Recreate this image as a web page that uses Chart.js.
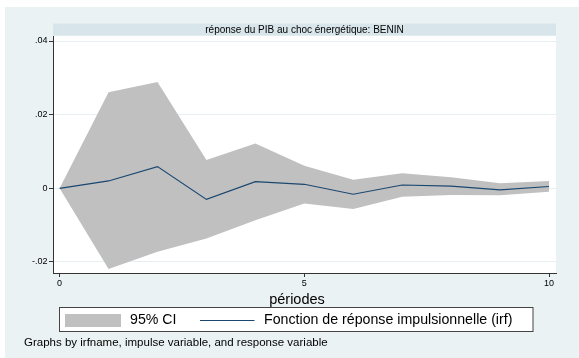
<!DOCTYPE html>
<html>
<head>
<meta charset="utf-8">
<script src="https://cdn.jsdelivr.net/npm/chart.js@4/dist/chart.umd.min.js"></script>
<style>
  html, body { margin: 0; padding: 0; background: #ffffff; }
  #c { display: block; }
</style>
</head>
<body>
<canvas id="c" width="579" height="358"></canvas>
<script>
// Impulse response of GDP to an energy shock, Benin, with 95% confidence band
const periods = [0, 1, 2, 3, 4, 5, 6, 7, 8, 9, 10];
const irf     = [0, 0.0020, 0.0059, -0.0030, 0.0018, 0.0011, -0.0016, 0.0009, 0.0006, -0.0004, 0.0005];
const ciUpper = [0, 0.0261, 0.0289, 0.0077, 0.0122, 0.0061, 0.0023, 0.0041, 0.0030, 0.0014, 0.0020];
const ciLower = [0, -0.0219, -0.0172, -0.0136, -0.0087, -0.0041, -0.0056, -0.0023, -0.0018, -0.0019, -0.0009];
const yTicks = [-0.02, 0, 0.02, 0.04];
const yTickLabels = ['-.02', '0', '.02', '.04'];
const xTicks = [0, 5, 10];

const panelTitle = 'réponse du PIB au choc énergétique: BENIN';
const xTitle = 'périodes';
const legendCI = '95% CI';
const legendIRF = 'Fonction de réponse impulsionnelle (irf)';
const footNote = 'Graphs by irfname, impulse variable, and response variable';

const FONT = '"Liberation Sans", Arial, Helvetica, sans-serif';
const NAVY = '#1a476f';
const BAND = '#c0c0c0';
const AXIS = '#333333';

const toXY = arr => periods.map((p, i) => ({ x: p, y: arr[i] }));

// Stata-like graph region, by-panel strip, legend and note
const decorations = {
  id: 'decorations',
  beforeDraw(chart) {
    const { ctx, chartArea: a } = chart;
    ctx.save();
    ctx.fillStyle = '#ffffff';
    ctx.fillRect(0, 0, chart.width, chart.height);
    ctx.fillStyle = '#eaf2f3';
    ctx.fillRect(5, 7, chart.width - 5, chart.height - 7);
    // plot region
    ctx.fillStyle = '#ffffff';
    ctx.fillRect(a.left, a.top, a.right - a.left, a.bottom - a.top);
    // panel strip
    ctx.fillStyle = '#d8e5ea';
    ctx.fillRect(a.left, 23.5, a.right - a.left, 12);
    ctx.fillStyle = '#000000';
    ctx.font = '10px ' + FONT;
    ctx.textAlign = 'center';
    ctx.textBaseline = 'middle';
    ctx.fillText(panelTitle, (a.left + a.right) / 2, 29.8);
    ctx.restore();
  },
  afterDraw(chart) {
    const { ctx } = chart;
    ctx.save();
    ctx.fillStyle = '#000000';
    ctx.textBaseline = 'middle';
    // x axis title
    ctx.font = '14.5px ' + FONT;
    ctx.textAlign = 'center';
    ctx.fillText(xTitle, 297, 300);
    // legend box
    ctx.fillStyle = '#ffffff';
    ctx.fillRect(59.5, 307.5, 473.5, 24);
    ctx.strokeStyle = '#444444';
    ctx.lineWidth = 1;
    ctx.strokeRect(59.5, 307.5, 473.5, 24);
    ctx.fillStyle = BAND;
    ctx.fillRect(65, 314, 56, 13);
    ctx.strokeStyle = NAVY;
    ctx.lineWidth = 1.2;
    ctx.beginPath();
    ctx.moveTo(200, 320.5);
    ctx.lineTo(254.5, 320.5);
    ctx.stroke();
    ctx.fillStyle = '#000000';
    ctx.font = '14.2px ' + FONT;
    ctx.textAlign = 'left';
    ctx.fillText(legendCI, 130, 320.5);
    ctx.fillText(legendIRF, 264, 320.5);
    // note
    ctx.font = '11.5px ' + FONT;
    ctx.fillText(footNote, 24, 343);
    ctx.restore();
  }
};

new Chart(document.getElementById('c'), {
  type: 'line',
  data: {
    datasets: [
      { label: legendCI, data: toXY(ciUpper), borderWidth: 0, pointRadius: 0,
        backgroundColor: BAND, fill: '+1', tension: 0, order: 2 },
      { label: 'lower', data: toXY(ciLower), borderWidth: 0, pointRadius: 0,
        backgroundColor: BAND, fill: false, tension: 0, order: 1 },
      { label: legendIRF, data: toXY(irf), borderColor: NAVY, borderWidth: 1.2,
        pointRadius: 0, fill: false, tension: 0, order: 0 }
    ]
  },
  options: {
    responsive: false,
    animation: false,
    devicePixelRatio: 1,
    layout: { padding: { top: 36, right: 23, bottom: 65, left: 0 } },
    plugins: { legend: { display: false }, title: { display: false }, tooltip: { enabled: false } },
    scales: {
      x: {
        type: 'linear',
        min: -0.135,
        max: 10.143,
        afterBuildTicks(s) { s.ticks = xTicks.map(v => ({ value: v })); },
        afterFit(s) { s.height = 20; },
        grid: { drawOnChartArea: false, drawTicks: true, tickLength: 4, tickColor: AXIS, tickWidth: 1 },
        border: { display: true, color: AXIS, width: 1 },
        ticks: { color: '#000', font: { family: FONT, size: 9 }, padding: 1, maxRotation: 0,
                 callback: v => String(v) }
      },
      y: {
        type: 'linear',
        min: -0.02299,
        max: 0.04136,
        afterBuildTicks(s) { s.ticks = yTicks.map(v => ({ value: v })); },
        afterFit(s) { s.width = 53; },
        grid: { color: '#e6eff1', lineWidth: 1, drawTicks: true, tickLength: 4, tickColor: AXIS, tickWidth: 1 },
        border: { display: true, color: AXIS, width: 1 },
        ticks: { color: '#000', font: { family: FONT, size: 9 }, padding: 1.5,
                 callback: v => yTickLabels[yTicks.indexOf(v)] ?? '' }
      }
    }
  },
  plugins: [decorations]
});
</script>
</body>
</html>
